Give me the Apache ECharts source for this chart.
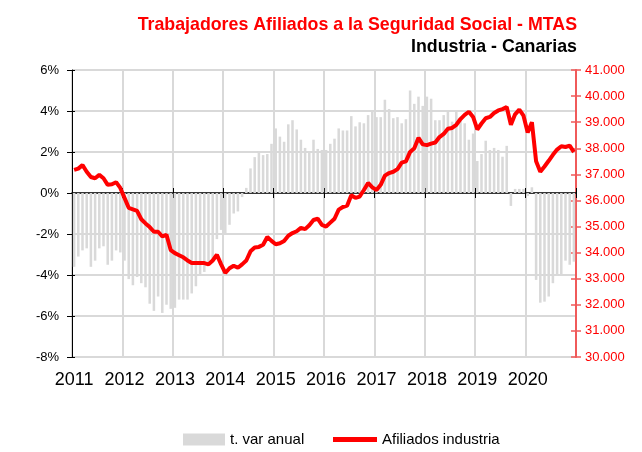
<!DOCTYPE html>
<html>
<head>
<meta charset="utf-8">
<script src="https://cdn.jsdelivr.net/npm/echarts@6/dist/echarts.min.js"></script>
<style>
    html, body {margin: 0; padding: 0; background: #fff;}
    #chartBox {width: 642px; height: 452px;}
</style>
</head>
<body>
<div id="chartBox"></div>
<script>
var years = ['2011', '2012', '2013', '2014', '2015', '2016', '2017', '2018', '2019', '2020'];

// t. var anual (%), monthly, Jan 2011 - Dec 2020
var varAnual = [
    -3.6, -3.1, -2.8, -2.7, -3.6, -3.3, -2.7, -2.6, -3.5, -3.3, -2.8, -2.9,
    -3.3, -4.2, -4.5, -4.1, -4.4, -4.6, -5.4, -5.75, -5.05, -5.85, -5.45, -5.65,
    -5.6, -5.2, -5.2, -5.2, -4.9, -4.55, -4.0, -3.85, -3.5, -3.2, -2.25, -1.8,
    -1.95, -1.55, -1.0, -0.9, -0.2, 0.25, 1.2, 1.75, 2.05, 1.85, 1.9, 2.4,
    3.15, 2.75, 2.5, 3.35, 3.55, 3.1, 2.6, 2.2, 2.0, 2.6, 2.15, 2.1,
    2.1, 2.4, 2.65, 3.15, 3.05, 3.05, 3.75, 3.25, 3.45, 3.4, 3.8, 4.0,
    3.7, 3.7, 4.55, 4.1, 3.65, 3.7, 3.4, 3.6, 5.0, 4.35, 4.7, 4.25,
    4.7, 4.6, 3.55, 3.55, 3.8, 3.97, 3.48, 3.97, 3.72, 3.4, 2.6, 2.9,
    1.56, 1.9, 2.55, 2.1, 2.2, 2.1, 1.77, 2.3, -0.63, 0.2, 0.2, 0.2,
    -0.15, 0.28, -4.24, -5.35, -5.3, -5.05, -4.4, -4.05, -4.0, -3.3, -3.5, -3.35
];

// Afiliados industria, monthly
var afiliados = [
    37170, 37220, 37360, 37100, 36900, 36850, 36980, 36850, 36600, 36620, 36700, 36480,
    36100, 35720, 35660, 35600, 35280, 35120, 34980, 34800, 34800, 34620, 34680, 34100,
    33980, 33900, 33820, 33700, 33600, 33600, 33600, 33600, 33550, 33700, 33920, 33550,
    33220, 33400, 33500, 33420, 33550, 33700, 34050, 34200, 34220, 34300, 34600, 34450,
    34320, 34360, 34450, 34650, 34750, 34820, 34950, 34900, 35050, 35250, 35300, 35060,
    35000, 35150, 35300, 35650, 35750, 35800, 36200, 36100, 36150, 36400, 36670, 36500,
    36400, 36600, 36950, 37050, 37100, 37200, 37450, 37500, 37860, 38000, 38400, 38150,
    38120, 38180, 38220, 38430, 38550, 38750, 38780, 38900, 39120, 39280, 39400, 39200,
    38720, 38950, 39150, 39200, 39350, 39450, 39500, 39580, 38900, 39300, 39480, 39250,
    38600, 39000, 37500, 37100, 37300, 37520, 37750, 37950, 38080, 38050, 38100, 37850
];

var meses = [];
for (var y = 0; y < years.length; y++) {
    for (var m = 1; m <= 12; m++) {
        meses.push(years[y] + '-' + m);
    }
}

var FONT = 'Liberation Sans';
var gridColor = '#d9d9d9';
var yearStart = function (idx) { return idx % 12 === 0; };

var myChart = echarts.init(document.getElementById('chartBox'));
var option = {
    animation: false,
    textStyle: {fontFamily: FONT},
    title: [
        {
            text: 'Trabajadores Afiliados a la Seguridad Social - MTAS',
            right: 60, top: 11,
            textStyle: {color: '#ff0000', fontSize: 17.8, fontWeight: 'bold', fontFamily: FONT}
        },
        {
            text: 'Industria - Canarias',
            right: 60, top: 33,
            textStyle: {color: '#000', fontSize: 17.8, fontWeight: 'bold', fontFamily: FONT}
        }
    ],
    legend: [
        {
            data: ['t. var anual'],
            left: 178, top: 427,
            icon: 'rect', itemWidth: 42, itemHeight: 12, itemGap: 6,
            textStyle: {fontSize: 15, color: '#000', fontFamily: FONT}
        },
        {
            data: ['Afiliados industria'],
            left: 328, top: 427,
            icon: 'rect', itemWidth: 44, itemHeight: 5, itemGap: 4,
            textStyle: {fontSize: 15, color: '#000', fontFamily: FONT}
        }
    ],
    grid: {left: 72, right: 66, top: 70, bottom: 95},
    xAxis: [
        {
            type: 'category', data: meses, position: 'bottom',
            axisLine: {show: false}, axisTick: {show: false},
            axisLabel: {
                interval: function (idx) { return yearStart(idx); },
                formatter: function (v) { return v.split('-')[0]; },
                fontSize: 18, color: '#000', margin: 14
            },
            splitLine: {show: true, interval: function (idx) { return yearStart(idx); },
                lineStyle: {color: gridColor, width: 2}}
        },
        {
            type: 'category', data: meses,
            axisLine: {onZero: true, onZeroAxisIndex: 0, lineStyle: {color: '#000', width: 1.5}},
            axisTick: {show: true, inside: true, length: 5, interval: function (idx) { return yearStart(idx); },
                lineStyle: {color: '#000', width: 1}},
            axisLabel: {show: false}, splitLine: {show: false}
        },
        {
            type: 'category', data: meses,
            axisLine: {show: false, onZero: true, onZeroAxisIndex: 0},
            axisTick: {show: true, length: 5, interval: function (idx) { return yearStart(idx); },
                lineStyle: {color: '#000', width: 1}},
            axisLabel: {show: false}, splitLine: {show: false}
        }
    ],
    yAxis: [
        {
            type: 'value', min: -8, max: 6, interval: 2, position: 'left',
            axisLine: {show: true, lineStyle: {color: '#000', width: 1}},
            axisTick: {show: true, length: 5, lineStyle: {color: '#000'}},
            axisLabel: {formatter: '{value}%', fontSize: 13, color: '#000', margin: 13},
            splitLine: {show: true, lineStyle: {color: gridColor, width: 2}}
        },
        {
            type: 'value', min: 30000, max: 41000, interval: 1000, position: 'right',
            axisLine: {show: true, lineStyle: {color: '#f05a5a', width: 2}},
            axisTick: {show: true, length: 5, lineStyle: {color: '#f05a5a', width: 1.5}},
            axisLabel: {
                fontSize: 13, color: '#ff0000', margin: 9,
                formatter: function (v) { return String(v).replace(/\B(?=(\d{3})+(?!\d))/g, '.'); }
            },
            splitLine: {show: false}
        },
        {
            type: 'value', min: 30000, max: 41000, interval: 1000, position: 'right',
            axisLine: {show: false},
            axisTick: {show: true, inside: true, length: 5, lineStyle: {color: '#f05a5a', width: 1.5}},
            axisLabel: {show: false}, splitLine: {show: false}
        },
        {
            type: 'value', min: -8, max: 6, interval: 2, position: 'left',
            axisLine: {show: false},
            axisTick: {show: true, inside: true, length: 3, lineStyle: {color: '#000'}},
            axisLabel: {show: false}, splitLine: {show: false}
        }
    ],
    series: [
        {
            name: 't. var anual', type: 'bar',
            xAxisIndex: 0, yAxisIndex: 0,
            data: varAnual, barWidth: '60%',
            itemStyle: {color: '#d9d9d9'}
        },
        {
            name: 'Afiliados industria', type: 'line',
            xAxisIndex: 0, yAxisIndex: 1,
            data: afiliados, showSymbol: false, symbol: 'none',
            lineStyle: {color: '#ff0000', width: 4}, itemStyle: {color: '#ff0000'},
            z: 5
        }
    ]
};
myChart.setOption(option);
</script>
</body>
</html>
